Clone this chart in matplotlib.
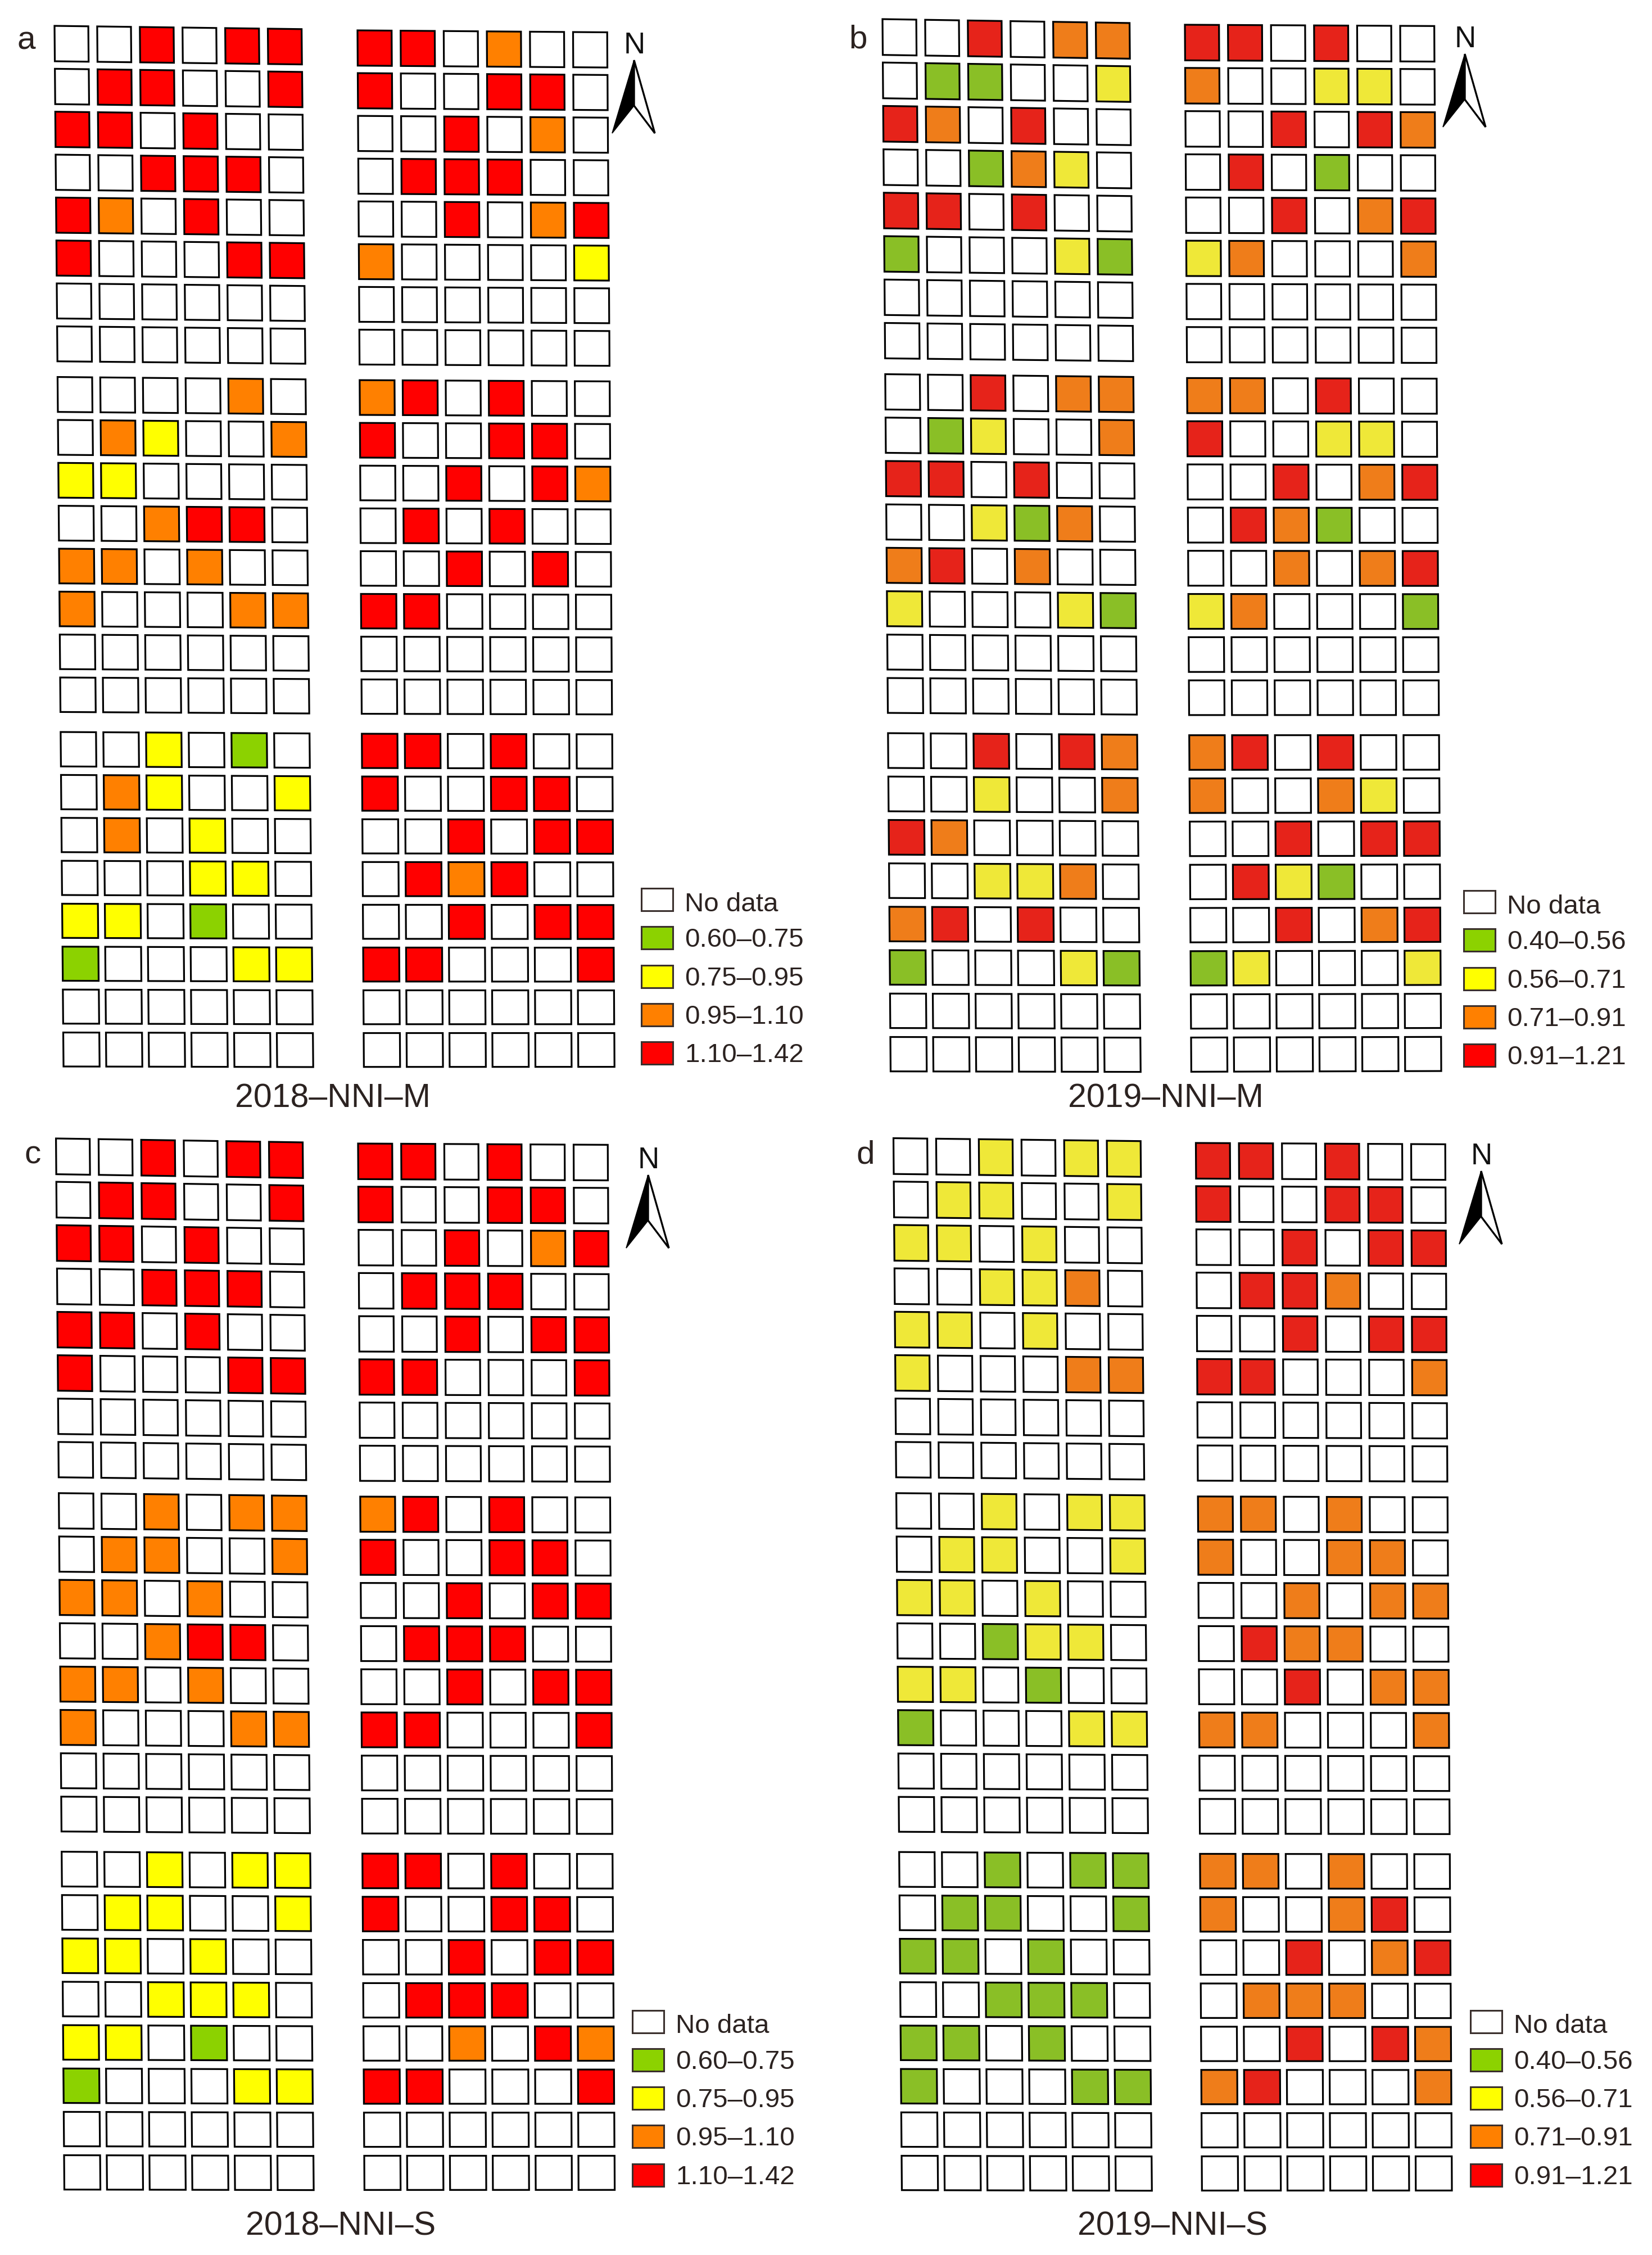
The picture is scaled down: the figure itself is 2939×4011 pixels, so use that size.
import matplotlib
matplotlib.use("Agg")
import matplotlib.pyplot as plt
from matplotlib.patches import Polygon

plt.rcParams['font.family'] = ['Liberation Sans', 'DejaVu Sans']

W, H = 2939, 4011
TEXT_COL = '#2b2220'

# class of each plot, one string per row: . no data, G Y O R = legend classes
a_left = ["..R.RR", ".RR..R", "RR.R..", "..RRR.", "RO.R..", "R...RR",
          "......", "......",
          "....O.", ".OY..O", "YY....", "..ORR.", "OO.O..", "O...OO",
          "......", "......",
          "..Y.G.", ".OY..Y", ".O.Y..", "...YY.", "YY.G..", "G...YY",
          "......", "......"]
a_right = ["RR.O..", "R..RR.", "..R.O.", ".RRR..", "..R.OR", "O....Y",
           "......", "......",
           "OR.R..", "R..RR.", "..R.RO", ".R.R..", "..R.R.", "RR....",
           "......", "......",
           "RR.R..", "R..RR.", "..R.RR", ".ROR..", "..R.RR", "RR...R",
           "......", "......"]
b_left = ["..R.OO", ".GG..Y", "RO.R..", "..GOY.", "RR.R..", "G...YG",
          "......", "......",
          "..R.OO", ".GY..O", "RR.R..", "..YGO.", "OR.O..", "Y...YG",
          "......", "......",
          "..R.RO", "..Y..O", "RO....", "..YYO.", "OR.R..", "G...YG",
          "......", "......"]
b_right = ["RR.R..", "O..YY.", "..R.RO", ".R.G..", "..R.OR", "YO...O",
           "......", "......",
           "OO.R..", "R..YY.", "..R.OR", ".ROG..", "..O.OR", "YO...G",
           "......", "......",
           "OR.R..", "O..OY.", "..R.RR", ".RYG..", "..R.OR", "GY...Y",
           "......", "......"]
c_left = ["..R.RR", ".RR..R", "RR.R..", "..RRR.", "RR.R..", "R...RR",
          "......", "......",
          "..O.OO", ".OO..O", "OO.O..", "..ORR.", "OO.O..", "O...OO",
          "......", "......",
          "..Y.YY", ".YY..Y", "YY.Y..", "..YYY.", "YY.G..", "G...YY",
          "......", "......"]
c_right = ["RR.R..", "R..RR.", "..R.OR", ".RRR..", "..R.RR", "RR...R",
           "......", "......",
           "OR.R..", "R..RR.", "..R.RR", ".RRR..", "..R.RR", "RR...R",
           "......", "......",
           "RR.R..", "R..RR.", "..R.RR", ".RRR..", "..O.RO", "RR...R",
           "......", "......"]
d_left = ["..Y.YY", ".YY..Y", "YY.Y..", "..YYO.", "YY.Y..", "Y...OO",
          "......", "......",
          "..Y.YY", ".YY..Y", "YY.Y..", "..GYY.", "YY.G..", "G...YY",
          "......", "......",
          "..G.GG", ".GG..G", "GG.G..", "..GGG.", "GG.G..", "G...GG",
          "......", "......"]
d_right = ["RR.R..", "R..RR.", "..R.RR", ".RRO..", "..R.RR", "RR...O",
           "......", "......",
           "OO.O..", "O..OO.", "..O.OO", ".ROO..", "..R.OO", "OO...O",
           "......", "......",
           "OO.O..", "O..OR.", "..R.OR", ".OOO..", "..R.RO", "OR...O",
           "......", "......"]

panel_letters = ['a', 'b', 'c', 'd']
panel_titles = ['2018–NNI–M', '2019–NNI–M', '2018–NNI–S', '2019–NNI–S']
legend_2018 = ['No data', '0.60–0.75', '0.75–0.95', '0.95–1.10', '1.10–1.42']
legend_2019 = ['No data', '0.40–0.56', '0.56–0.71', '0.71–0.91', '0.91–1.21']
legend_keys = ['.', 'G', 'Y', 'O', 'R']

pure = {'.': 'white', 'G': '#8CD200', 'Y': '#FFFF00', 'O': '#FF8000', 'R': '#FF0000'}
muted = {'.': 'white', 'G': '#8ABF26', 'Y': '#EFE838', 'O': '#EF7D1A', 'R': '#E6231A'}

PITCH = 76.4
W_TOP, W_BOT = 60.5, 64.5
H_TOP, H_BOT = 63.0, 60.5
GAP_1, GAP_2 = 0.18, 0.27
GRID_H = 23 + GAP_1 + GAP_2


def bilinear(anchors, u, v):
    tl, tr, bl, br = anchors
    x = (tl[0]*(1-u) + tr[0]*u)*(1-v) + (bl[0]*(1-u) + br[0]*u)*v
    y = (tl[1]*(1-u) + tr[1]*u)*(1-v) + (bl[1]*(1-u) + br[1]*u)*v
    return x, y


def draw_field(ax, rows, tl, tr, bl, br, colors):
    # outer corners -> top left corners of the four extreme cells
    anchors = [tl, (tr[0] - W_TOP, tr[1]), (bl[0], bl[1] - H_BOT), (br[0] - W_BOT, br[1] - H_BOT)]
    for r, row in enumerate(rows):
        y0 = r + (GAP_1 if r >= 8 else 0) + (GAP_2 if r >= 16 else 0)
        v0 = y0 / GRID_H
        cw = (W_TOP + (W_BOT - W_TOP) * v0) / PITCH
        ch = (H_TOP + (H_BOT - H_TOP) * v0) / PITCH
        v1 = (y0 + ch) / GRID_H
        for c, key in enumerate(row):
            u0, u1 = c / 5, (c + cw) / 5
            pts = [bilinear(anchors, u0, v0), bilinear(anchors, u1, v0),
                   bilinear(anchors, u1, v1), bilinear(anchors, u0, v1)]
            ax.add_patch(Polygon(pts, closed=True, fc=colors[key], ec='black', lw=2.3))


def draw_north(ax, tip_x, tip_y):
    ax.text(tip_x + 1, tip_y - 12, 'N', fontsize=38, color='#111111', ha='center', va='baseline')
    left = [(tip_x, tip_y), (tip_x - 39, tip_y + 130), (tip_x, tip_y + 81)]
    right = [(tip_x, tip_y), (tip_x + 37, tip_y + 130), (tip_x, tip_y + 81)]
    ax.add_patch(Polygon(left, closed=True, fc='black', ec='black', lw=1.2, joinstyle='miter'))
    ax.add_patch(Polygon(right, closed=True, fc='white', ec='black', lw=2.4, joinstyle='miter'))


def draw_legend(ax, x, y, labels):
    for i, lab in enumerate(labels):
        yc = y + i * 68.3
        ax.add_patch(plt.Rectangle((x, yc - 20), 56, 40, fc=pure[legend_keys[i]],
                                   ec='#3a2f2c', lw=2.2))
        off = 21 if i == 0 else 16
        ax.text(x + 77, yc + off, lab, fontsize=34.2, color=TEXT_COL, ha='left', va='baseline')


fig = plt.figure(figsize=(W / 100, H / 100), dpi=100)
ax = fig.add_axes([0, 0, 1, 1])
ax.set_xlim(0, W)
ax.set_ylim(H, 0)
ax.axis('off')

draw_field(ax, a_left, (97, 46), (537, 51), (112.5, 1897), (557, 1898), pure)
draw_field(ax, a_right, (636, 54), (1080, 57), (647, 1898), (1093, 1898), pure)
draw_field(ax, b_left, (1570, 34), (2010, 40), (1584, 1905), (2029, 1906), muted)
draw_field(ax, b_right, (2108, 44), (2551.5, 46), (2119, 1906), (2564, 1905), muted)
draw_field(ax, c_left, (99.6, 2025), (539, 2031), (114, 3894), (558, 3895), pure)
draw_field(ax, c_right, (637, 2034), (1081, 2036), (648, 3895), (1093.5, 3895), pure)
draw_field(ax, d_left, (1589.5, 2024.5), (2029.6, 2029), (1604, 3895), (2049, 3896), muted)
draw_field(ax, d_right, (2127.5, 2033), (2571, 2035), (2138, 3896), (2583, 3896), muted)

for tip in [(1128, 107), (2606, 96), (1153, 2090), (2635, 2083)]:
    draw_north(ax, *tip)

draw_legend(ax, 1141, 1600, legend_2018)
draw_legend(ax, 2604, 1604, legend_2019)
draw_legend(ax, 1125, 3595.5, legend_2018)
draw_legend(ax, 2616, 3595.5, legend_2019)

for letter, (x, y) in zip(panel_letters, [(47, 88), (1527, 86), (58, 2069), (1540, 2069)]):
    ax.text(x, y, letter, fontsize=42, color=TEXT_COL, ha='center', va='baseline')

for title, (x, y) in zip(panel_titles, [(592, 1970), (2074, 1970), (606, 3976), (2086, 3976)]):
    ax.text(x, y, title, fontsize=42.5, color=TEXT_COL, ha='center', va='baseline')

fig.savefig('out.png', dpi=100, facecolor='white')
